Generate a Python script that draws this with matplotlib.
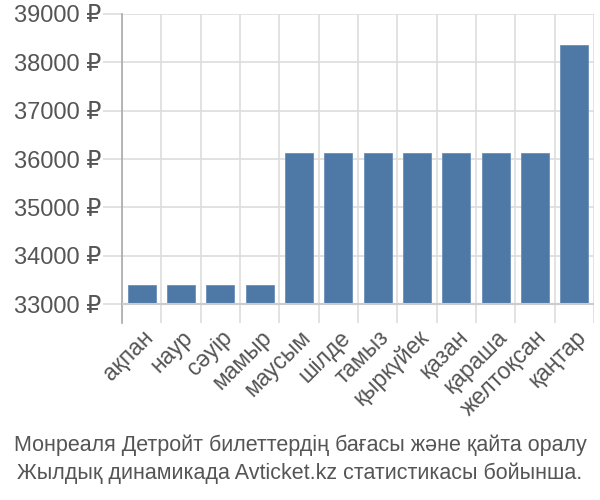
import matplotlib
matplotlib.use("Agg")
import matplotlib.pyplot as plt
import numpy as np

months = ["ақпан", "наур", "сәуір", "мамыр", "маусым", "шілде", "тамыз",
          "қыркүйек", "қазан", "қараша", "желтоқсан", "қаңтар"]
prices = [33390, 33390, 33390, 33390, 36130, 36130, 36130, 36130, 36130, 36130, 36130, 38350]
yticks = [33000, 34000, 35000, 36000, 37000, 38000, 39000]
caption = ["Монреаля Детройт билеттердің бағасы және қайта оралу",
           "Жылдық динамикада Avticket.kz статистикасы бойынша."]

plt.rcParams['font.family'] = ['Liberation Sans', 'DejaVu Sans']

fig = plt.figure(figsize=(6, 5), dpi=100)
ax = fig.add_axes([122/600, 1-323/500, (594-122)/600, (323-14)/500])

base = 33000
x = np.arange(len(months))
ax.bar(x, np.array(prices) - base, bottom=base, width=0.72, color="#4e79a7",
       edgecolor="#6a8fb8", linewidth=0.6, zorder=3)

ax.set_xlim(-0.5, len(months) - 0.5)
ax.set_ylim(32607, 39000)
ax.set_yticks(yticks)
ax.set_yticklabels([f"{v} ₽" for v in yticks], fontsize=17, color="#555555")
ax.set_xticks(x)
ax.set_xticklabels(months, rotation=45, ha="right", rotation_mode="anchor",
                   fontsize=16.5, color="#555555")
ax.tick_params(axis="x", length=0, pad=2)
ax.tick_params(axis="y", length=14, color="#dddddd", width=1.2, pad=1)

for yv in yticks:
    ax.axhline(yv, color="#dddddd", lw=1.2, zorder=1)
ax.axhline(base, color="#cccccc", lw=1.5, zorder=4)
for b in np.arange(-0.5, len(months), 1.0):
    ax.axvline(b, color="#dddddd", lw=1.2, zorder=1)

for s in ["top", "right", "bottom"]:
    ax.spines[s].set_visible(False)
ax.spines["left"].set_color("#aaaaaa")
ax.spines["left"].set_linewidth(1.2)

fam = ['Liberation Sans Narrow', 'Liberation Sans', 'DejaVu Sans']
fig.text(0.5, 1-445/500, caption[0], ha="center", va="center", fontsize=15.5,
         color="#555555", family=fam)
fig.text(0.5, 1-473/500, caption[1], ha="center", va="center", fontsize=15.5,
         color="#555555", family=fam)

fig.savefig("out.png", dpi=100)
